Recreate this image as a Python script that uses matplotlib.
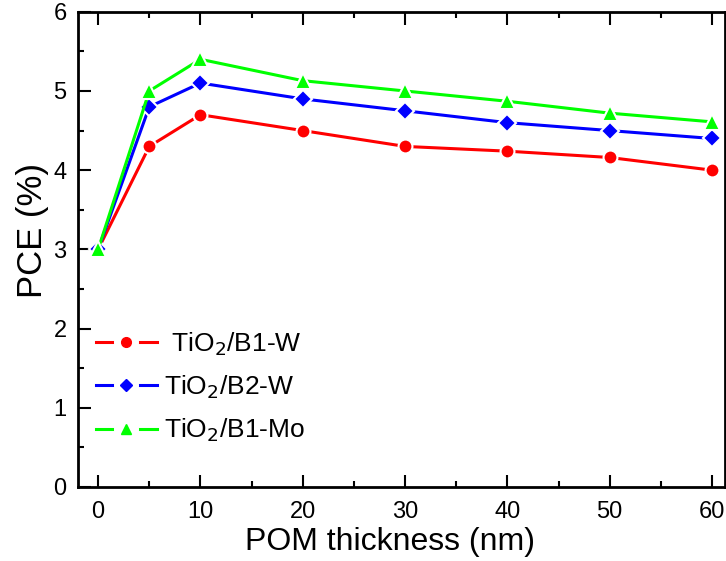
import matplotlib.pyplot as plt
from matplotlib.lines import Line2D
from matplotlib.legend_handler import HandlerTuple
from matplotlib.ticker import MultipleLocator

plt.rcParams['font.family'] = ['Liberation Sans', 'DejaVu Sans']

# POM layer thickness (nm) and power conversion efficiency (%)
thickness = [0, 5, 10, 20, 30, 40, 50, 60]
pce_b1_w = [3.0, 4.3, 4.7, 4.5, 4.3, 4.24, 4.16, 4.0]
pce_b2_w = [3.0, 4.8, 5.1, 4.9, 4.75, 4.6, 4.5, 4.4]
pce_b1_mo = [3.0, 5.0, 5.4, 5.13, 5.0, 4.87, 4.72, 4.61]

labels = [r' TiO$_2$/B1-W', r'TiO$_2$/B2-W', r'TiO$_2$/B1-Mo']
colors = ['#ff0000', '#0000ff', '#00ff00']
markers = ['o', 'D', '^']
msizes = [10, 9, 11]

fig = plt.figure(figsize=(7.26, 5.61), dpi=100)
ax = fig.add_axes([0.107, 0.132, 0.892, 0.847])

handles = []
for y, c, m, s in zip([pce_b1_w, pce_b2_w, pce_b1_mo], colors, markers, msizes):
    ax.plot(thickness, y, '-', marker=m, color=c, lw=2.2, ms=s,
            mec='white', mew=1.5)
    # legend entry: line broken by a white patch around the marker
    h_line = Line2D([], [], color=c, lw=2.2)
    h_gap = Line2D([], [], ls='none', marker='o', ms=17, color='white')
    h_mark = Line2D([], [], ls='none', marker=m, ms=s * 0.7, color=c)
    handles.append((h_line, h_gap, h_mark))

ax.set_xlim(-2, 61.3)
ax.set_ylim(0, 6)
ax.xaxis.set_major_locator(MultipleLocator(10))
ax.xaxis.set_minor_locator(MultipleLocator(5))
ax.yaxis.set_major_locator(MultipleLocator(1))
ax.yaxis.set_minor_locator(MultipleLocator(0.5))
ax.tick_params(which='both', direction='in', top=True, right=False,
               width=1.5, labelsize=17)
ax.tick_params(which='major', length=9)
ax.tick_params(which='minor', length=4.5)
ax.tick_params(axis='x', pad=10)
ax.tick_params(axis='y', pad=8)
for s in ax.spines.values():
    s.set_linewidth(2)

ax.set_xlabel('POM thickness (nm)', fontsize=23, labelpad=3)
ax.set_ylabel('PCE (%)', fontsize=25, labelpad=3)
ax.xaxis.label.set_x(0.482)
ax.yaxis.label.set_y(0.54)

ax.legend(handles, labels, handler_map={tuple: HandlerTuple(ndivide=1)},
          loc='upper left', bbox_to_anchor=(0.028, 0.33), frameon=False,
          fontsize=19, handlelength=2.3, handletextpad=0.3,
          labelspacing=0.6, borderaxespad=0, borderpad=0)

fig.savefig('out.png', dpi=100)
